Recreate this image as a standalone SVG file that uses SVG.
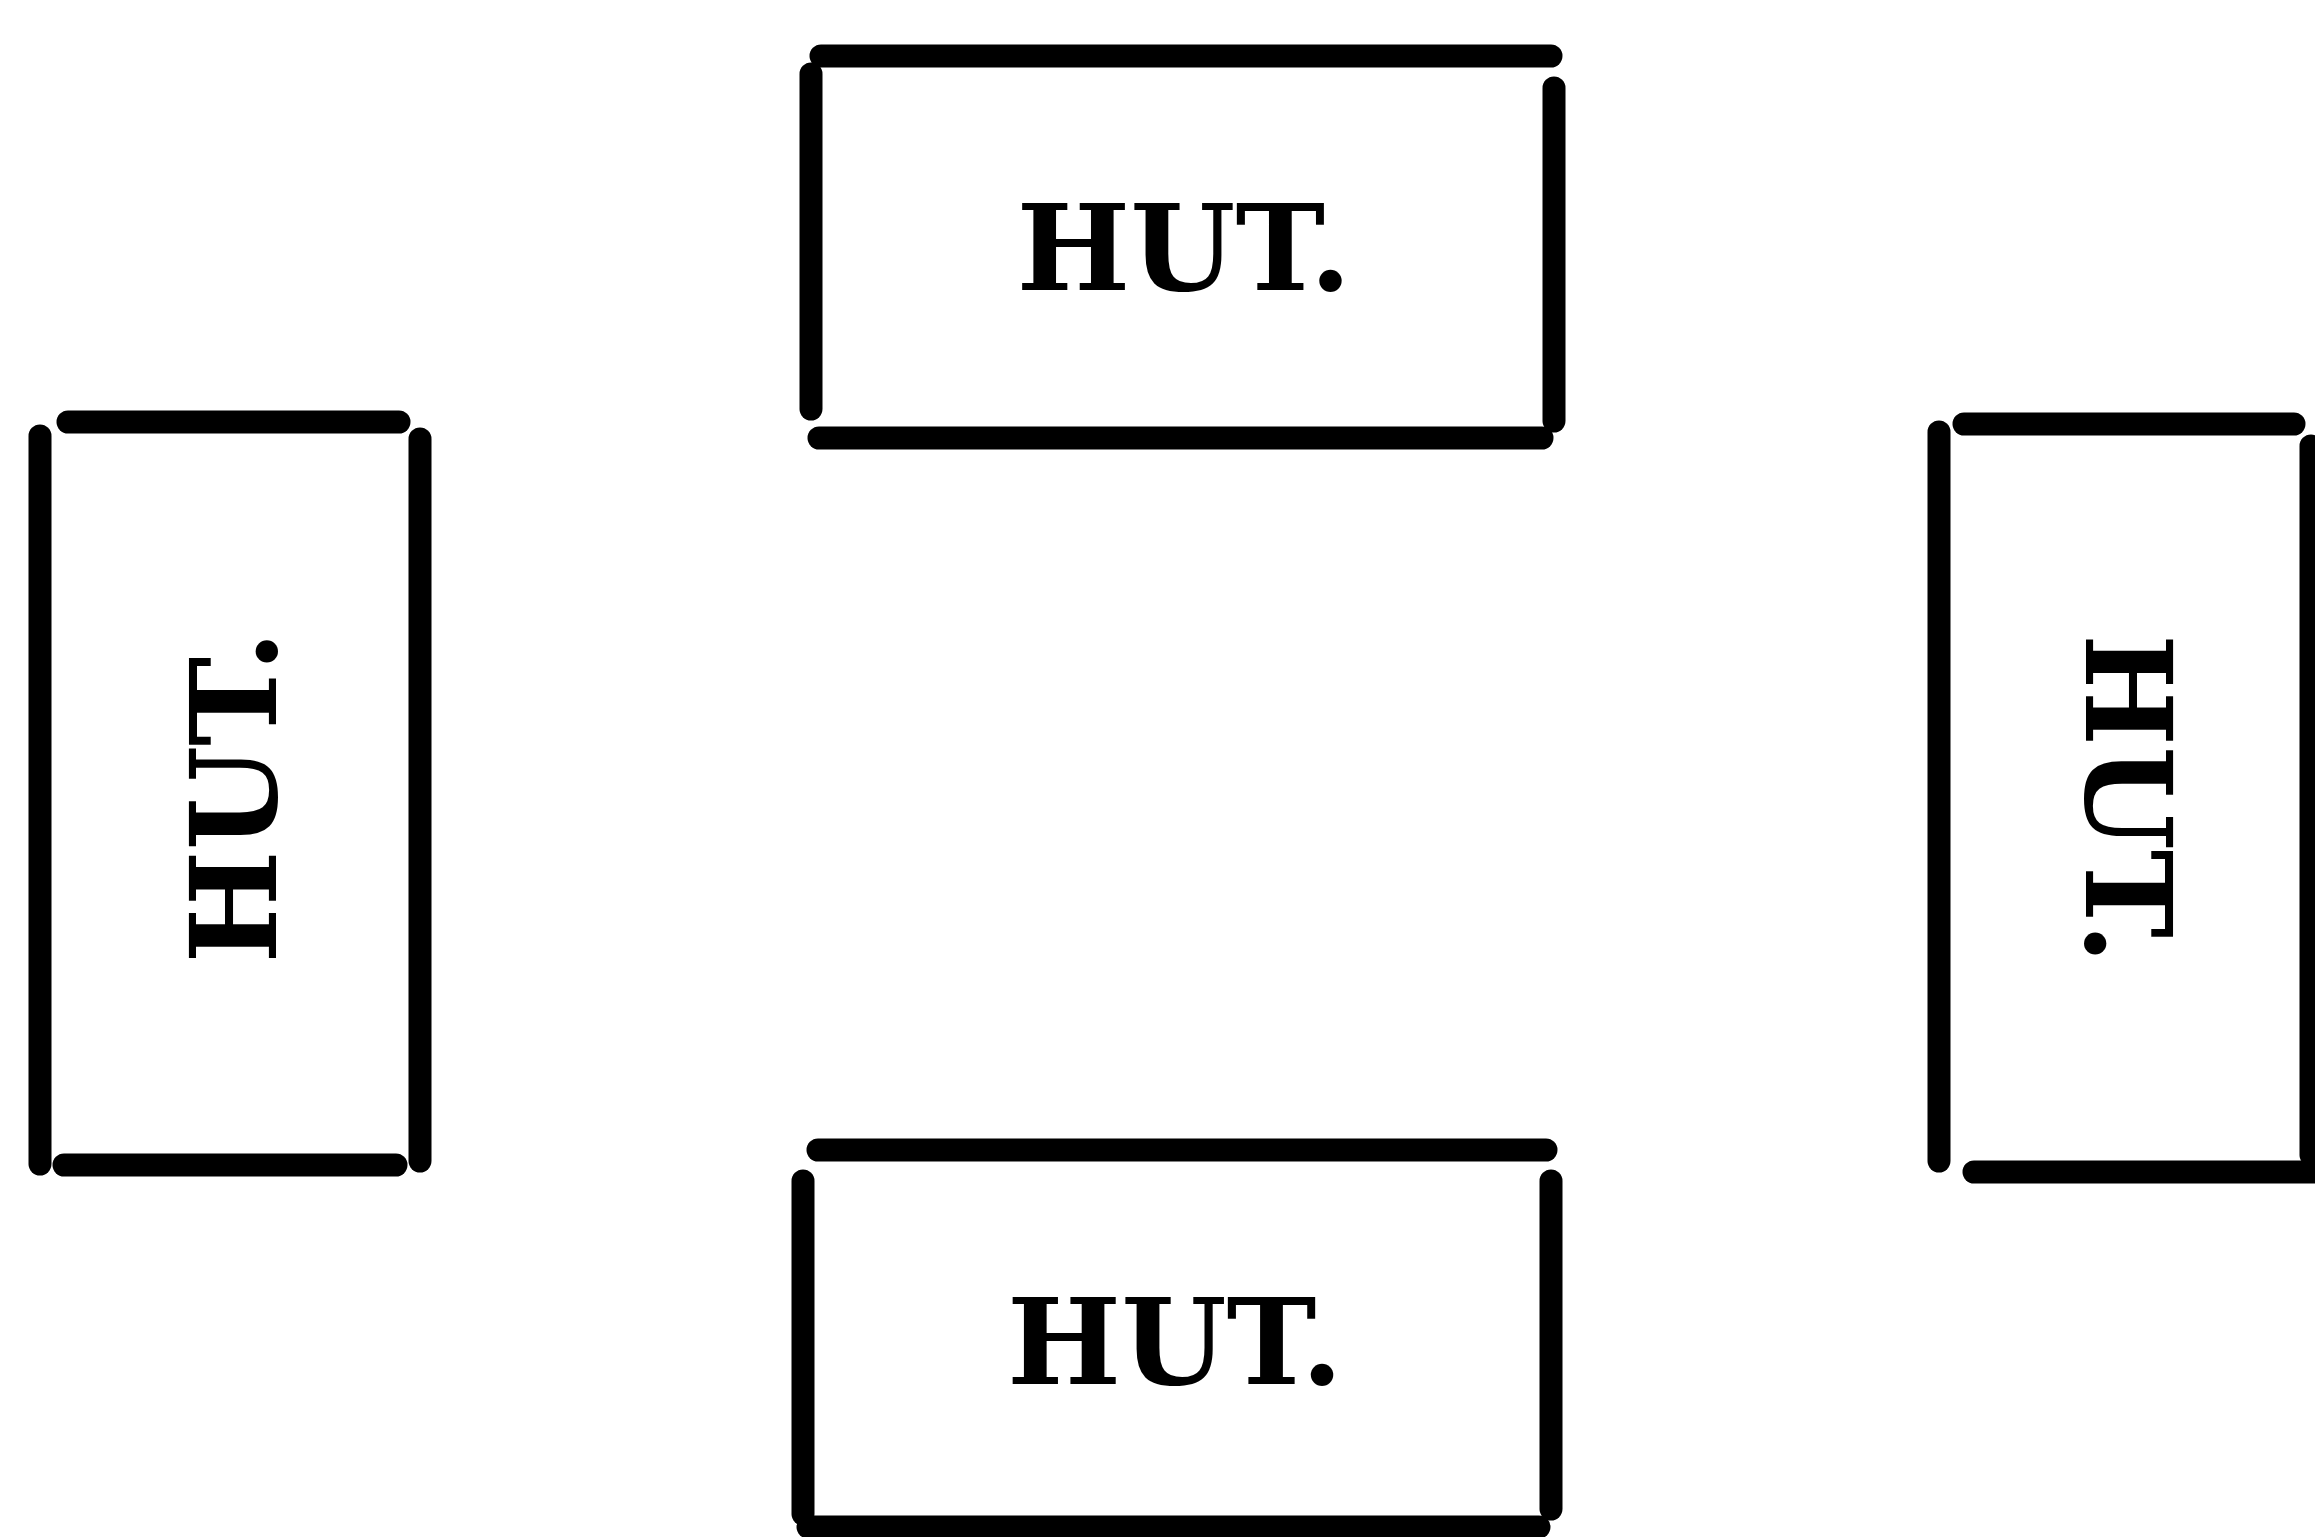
<svg xmlns="http://www.w3.org/2000/svg" width="2315" height="1537" viewBox="0 0 2315 1537">
<style>
.wall{stroke:#000;stroke-width:23;stroke-linecap:round;fill:none}
.lbl{font-family:"DejaVu Serif","Liberation Serif",serif;font-weight:bold;font-size:120px;fill:#000;text-anchor:middle}
</style>
<rect width="2315" height="1537" fill="#fff"/>
<g id="hut-top">
<line class="wall" x1="821" y1="56" x2="1551" y2="56"/>
<line class="wall" x1="811" y1="74" x2="811" y2="409"/>
<line class="wall" x1="1554" y1="88" x2="1554" y2="421"/>
<line class="wall" x1="819" y1="438" x2="1542" y2="438"/>
<text class="lbl" x="1184" y="290" textLength="335" lengthAdjust="spacingAndGlyphs">HUT.</text>
</g>
<g id="hut-left">
<line class="wall" x1="40" y1="436" x2="40" y2="1164"/>
<line class="wall" x1="68" y1="422" x2="399" y2="422"/>
<line class="wall" x1="420" y1="439" x2="420" y2="1161"/>
<line class="wall" x1="64" y1="1165" x2="396" y2="1165"/>
<text class="lbl" transform="translate(276,797) rotate(-90)" x="0" y="0" textLength="333" lengthAdjust="spacingAndGlyphs">HUT.</text>
</g>
<g id="hut-right">
<line class="wall" x1="1939" y1="432" x2="1939" y2="1161"/>
<line class="wall" x1="1964" y1="424" x2="2294" y2="424"/>
<line class="wall" x1="2311" y1="446" x2="2311" y2="1155"/>
<line class="wall" x1="1974" y1="1172" x2="2320" y2="1172"/>
<text class="lbl" transform="translate(2086,799) rotate(90)" x="0" y="0" textLength="330" lengthAdjust="spacingAndGlyphs">HUT.</text>
</g>
<g id="hut-bottom">
<line class="wall" x1="818" y1="1150" x2="1546" y2="1150"/>
<line class="wall" x1="803" y1="1181" x2="803" y2="1514"/>
<line class="wall" x1="1551" y1="1181" x2="1551" y2="1509"/>
<line class="wall" x1="808" y1="1527" x2="1539" y2="1527"/>
<text class="lbl" x="1175" y="1384" textLength="336" lengthAdjust="spacingAndGlyphs">HUT.</text>
</g>
<g id="connectors"></g>
</svg>
